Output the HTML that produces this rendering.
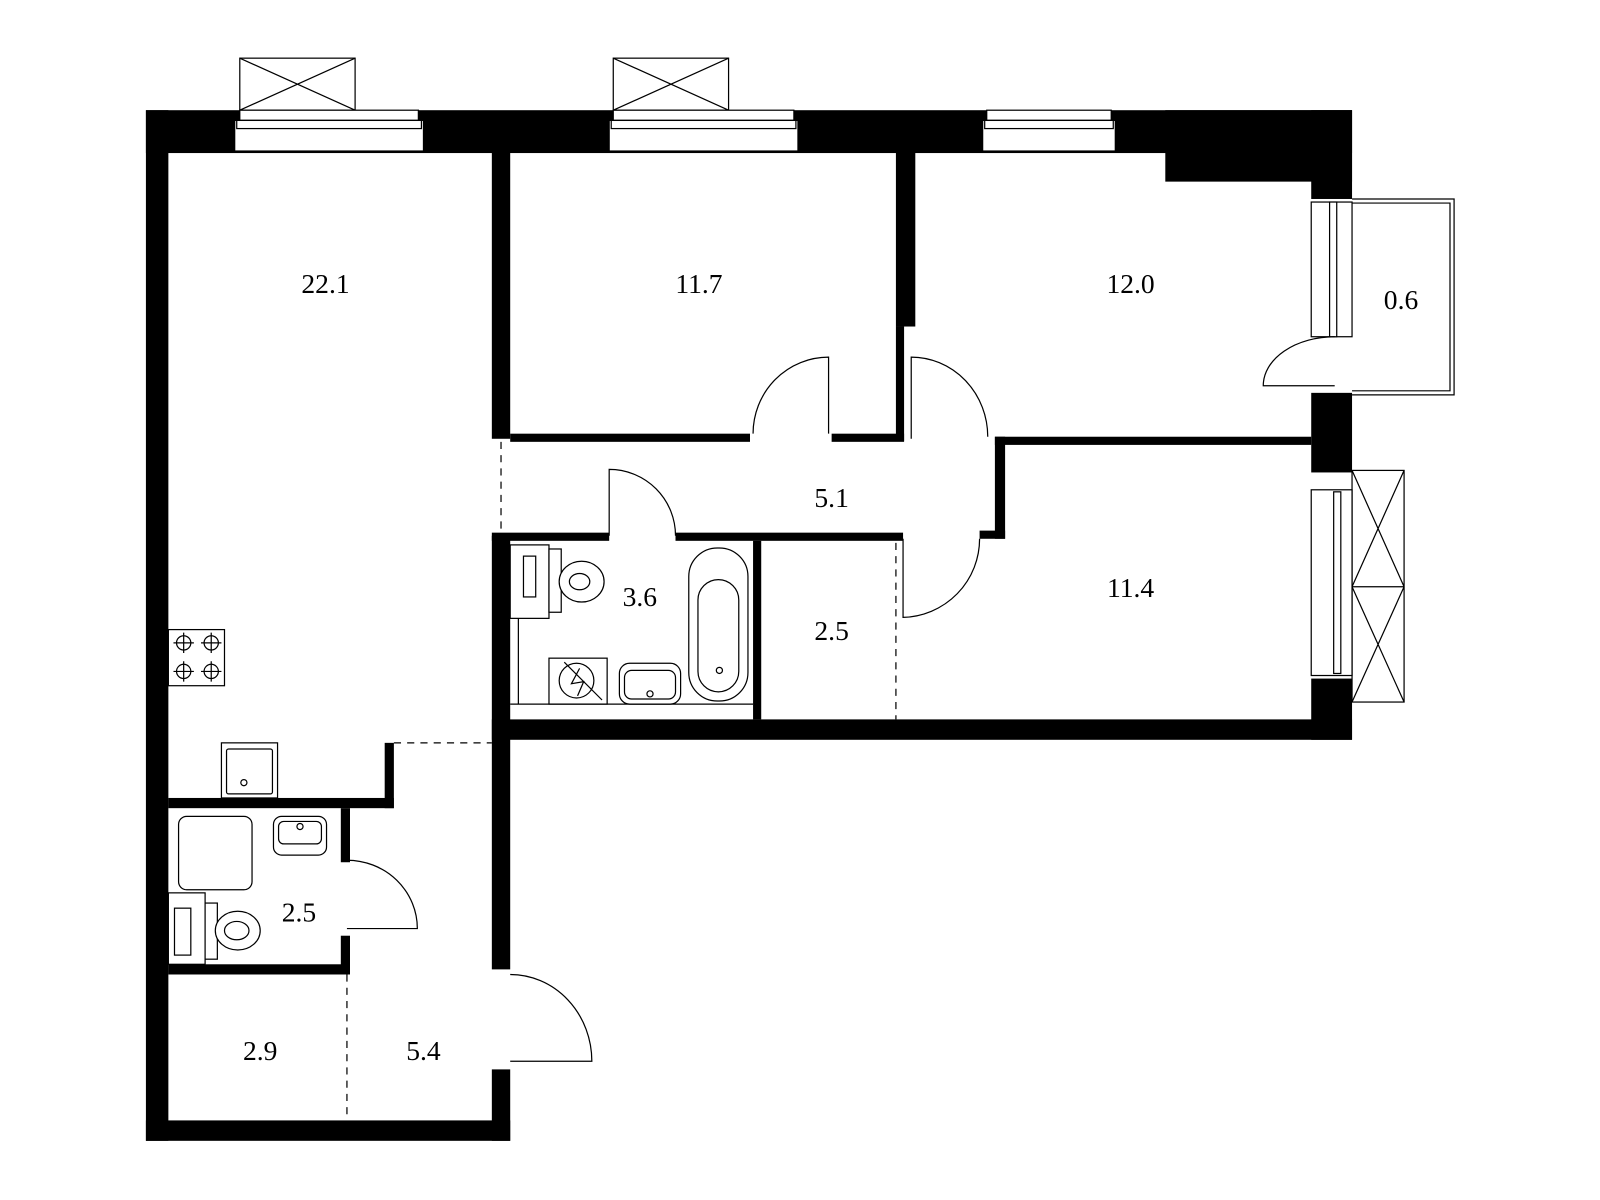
<!DOCTYPE html>
<html><head><meta charset="utf-8"><style>html,body{margin:0;padding:0;background:#fff}svg{display:block}</style></head>
<body>
<svg width="1600" height="1200" viewBox="0 0 1568 1176" xmlns="http://www.w3.org/2000/svg">
<rect width="1568" height="1176" fill="#fff"/>
<g fill="#000">
<rect x="143" y="108" width="1182" height="42"/>
<rect x="143" y="108" width="22" height="1010"/>
<rect x="143" y="1098" width="357" height="20"/>
<rect x="1142" y="108" width="183" height="70"/>
<rect x="1285" y="108" width="40" height="87"/>
<rect x="1285" y="385" width="40" height="78"/>
<rect x="1285" y="665" width="40" height="60"/>
<rect x="482" y="705" width="843" height="20"/>
<rect x="482" y="148" width="18" height="282"/>
<rect x="482" y="525" width="18" height="425"/>
<rect x="482" y="1048" width="18" height="70"/>
<rect x="500" y="425" width="235" height="8"/>
<rect x="815" y="425" width="71" height="8"/>
<rect x="878" y="148" width="19" height="172"/>
<rect x="878" y="320" width="8" height="112"/>
<rect x="975" y="428" width="310" height="8"/>
<rect x="975" y="428" width="10" height="100"/>
<rect x="960" y="520" width="25" height="8"/>
<rect x="482" y="522" width="115" height="8"/>
<rect x="662" y="522" width="223" height="8"/>
<rect x="738" y="530" width="8" height="175"/>
<rect x="377" y="728" width="9" height="64"/>
<rect x="165" y="782" width="221" height="10"/>
<rect x="334" y="792" width="9" height="53"/>
<rect x="334" y="917" width="9" height="38"/>
<rect x="165" y="945" width="178" height="10"/>
</g>
<g fill="#fff" stroke="#000" stroke-width="1.2">
<rect x="235" y="57" width="113" height="51"/><path d="M235 57L348 108M348 57L235 108"/>
<rect x="235" y="108" width="175" height="10"/><rect x="230" y="118" width="185" height="30"/><rect x="232" y="118" width="181" height="8"/>
<rect x="601" y="57" width="113" height="51"/><path d="M601 57L714 108M714 57L601 108"/>
<rect x="601" y="108" width="177" height="10"/><rect x="597" y="118" width="185" height="30"/><rect x="599" y="118" width="181" height="8"/>
<rect x="967" y="108" width="122" height="10"/><rect x="963" y="118" width="130" height="30"/><rect x="965" y="118" width="126" height="8"/>
<path d="M1325 195H1425V387H1325M1325 199H1421V383H1325" fill="none"/>
<rect x="1285" y="198" width="40" height="132"/><rect x="1303" y="198" width="7" height="132"/>
<rect x="1325" y="461" width="51" height="227"/><path d="M1325 461L1376 575M1376 461L1325 575M1325 575L1376 688M1376 575L1325 688M1325 575H1376" fill="none"/>
<rect x="1285" y="480" width="40" height="182"/><rect x="1307" y="482" width="7" height="178"/>
<path d="M738 425A74 75 0 0 1 812 350V425" fill="none"/>
<path d="M893 430V350A75 78 0 0 1 968 428" fill="none"/>
<path d="M1308 330A70 48 0 0 0 1238 378H1308" fill="none"/>
<path d="M885 528V605A77 77 0 0 0 960 528" fill="none"/>
<path d="M597 525V460A65 65 0 0 1 662 525" fill="none"/>
<path d="M340 843A69 67 0 0 1 409 910H340" fill="none"/>
<path d="M500 955A80 85 0 0 1 580 1040H500" fill="none"/>
<rect x="165" y="617" width="55" height="55"/>
<rect x="217" y="728" width="55" height="54"/><rect x="222" y="734" width="45" height="44" rx="2"/><circle cx="239" cy="767" r="3"/>
<rect x="175" y="800" width="72" height="72" rx="8"/>
<rect x="268" y="800" width="52" height="38" rx="8"/><rect x="273" y="805" width="42" height="22" rx="5"/><circle cx="294" cy="810" r="3"/>
<rect x="165" y="875" width="36" height="70"/><rect x="171" y="890" width="16" height="46"/>
<rect x="201" y="885" width="12" height="55"/><ellipse cx="233" cy="912" rx="22" ry="19"/><ellipse cx="232" cy="912" rx="12" ry="9"/>
<rect x="500" y="534" width="38" height="72"/><rect x="513" y="545" width="12" height="40"/>
<rect x="538" y="538" width="12" height="62"/><ellipse cx="570" cy="570" rx="22" ry="20"/><ellipse cx="568" cy="570" rx="10" ry="8"/>
<path d="M508 606V690" fill="none"/>
<rect x="538" y="645" width="57" height="45"/><circle cx="565" cy="667" r="17"/><path d="M553 649L590 686M568 655L560 670L572 668L566 682" fill="none"/>
<rect x="607" y="650" width="60" height="40" rx="10"/><rect x="612" y="657" width="50" height="28" rx="7"/><circle cx="637" cy="680" r="3"/>
<rect x="675" y="537" width="58" height="150" rx="28"/><rect x="684" y="568" width="40" height="110" rx="20"/><circle cx="705" cy="657" r="3"/>
<path d="M500 690H738" fill="none"/>
</g>
<g fill="none" stroke="#000" stroke-width="1.2">
<circle cx="180" cy="630" r="7"/><path d="M180 620V640M170 630H190"/>
<circle cx="207" cy="630" r="7"/><path d="M207 620V640M197 630H217"/>
<circle cx="180" cy="658" r="7"/><path d="M180 648V668M170 658H190"/>
<circle cx="207" cy="658" r="7"/><path d="M207 648V668M197 658H217"/>
</g>
<g stroke="#000" stroke-width="1.2" stroke-dasharray="7,6" fill="none">
<path d="M491 433V522"/><path d="M878 532V705"/><path d="M386 728H482"/><path d="M340 955V1098"/>
</g>
<g font-family="'Liberation Serif', serif" font-size="27" text-anchor="middle" fill="#000">
<text x="319" y="287">22.1</text><text x="685" y="287">11.7</text><text x="1108" y="287">12.0</text>
<text x="1373" y="303">0.6</text><text x="815" y="497">5.1</text><text x="627" y="594">3.6</text>
<text x="815" y="627">2.5</text><text x="1108" y="585">11.4</text><text x="293" y="903">2.5</text>
<text x="255" y="1039">2.9</text><text x="415" y="1039">5.4</text>
</g>
</svg>
</body></html>
